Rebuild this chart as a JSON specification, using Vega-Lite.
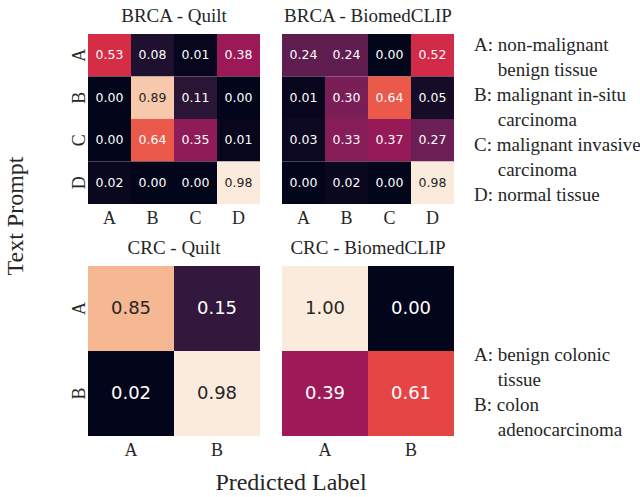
{
  "$schema": "https://vega.github.io/schema/vega-lite/v6.json",
  "autosize": {"type": "none"},
  "padding": {"left": 88, "top": 34, "right": 552, "bottom": 463},
  "background": "white",
  "title": {"text": "Text Prompt", "orient": "left", "anchor": "middle", "font": "Liberation Serif", "fontSize": 24, "fontWeight": "normal", "color": "#262626", "offset": 42, "dx": 35},
  "datasets": {
    "brca_quilt": [
      {"prompt": "A", "pred": "A", "value": 0.53}, {"prompt": "A", "pred": "B", "value": 0.08}, {"prompt": "A", "pred": "C", "value": 0.01}, {"prompt": "A", "pred": "D", "value": 0.38},
      {"prompt": "B", "pred": "A", "value": 0.00}, {"prompt": "B", "pred": "B", "value": 0.89}, {"prompt": "B", "pred": "C", "value": 0.11}, {"prompt": "B", "pred": "D", "value": 0.00},
      {"prompt": "C", "pred": "A", "value": 0.00}, {"prompt": "C", "pred": "B", "value": 0.64}, {"prompt": "C", "pred": "C", "value": 0.35}, {"prompt": "C", "pred": "D", "value": 0.01},
      {"prompt": "D", "pred": "A", "value": 0.02}, {"prompt": "D", "pred": "B", "value": 0.00}, {"prompt": "D", "pred": "C", "value": 0.00}, {"prompt": "D", "pred": "D", "value": 0.98}
    ],
    "brca_biomedclip": [
      {"prompt": "A", "pred": "A", "value": 0.24}, {"prompt": "A", "pred": "B", "value": 0.24}, {"prompt": "A", "pred": "C", "value": 0.00}, {"prompt": "A", "pred": "D", "value": 0.52},
      {"prompt": "B", "pred": "A", "value": 0.01}, {"prompt": "B", "pred": "B", "value": 0.30}, {"prompt": "B", "pred": "C", "value": 0.64}, {"prompt": "B", "pred": "D", "value": 0.05},
      {"prompt": "C", "pred": "A", "value": 0.03}, {"prompt": "C", "pred": "B", "value": 0.33}, {"prompt": "C", "pred": "C", "value": 0.37}, {"prompt": "C", "pred": "D", "value": 0.27},
      {"prompt": "D", "pred": "A", "value": 0.00}, {"prompt": "D", "pred": "B", "value": 0.02}, {"prompt": "D", "pred": "C", "value": 0.00}, {"prompt": "D", "pred": "D", "value": 0.98}
    ],
    "crc_quilt": [
      {"prompt": "A", "pred": "A", "value": 0.85}, {"prompt": "A", "pred": "B", "value": 0.15},
      {"prompt": "B", "pred": "A", "value": 0.02}, {"prompt": "B", "pred": "B", "value": 0.98}
    ],
    "crc_biomedclip": [
      {"prompt": "A", "pred": "A", "value": 1.00}, {"prompt": "A", "pred": "B", "value": 0.00},
      {"prompt": "B", "pred": "A", "value": 0.39}, {"prompt": "B", "pred": "B", "value": 0.61}
    ],
    "legend_brca": [
      {"text": "A: non-malignant\n\u200b\u00a0\u00a0\u00a0\u00a0\u00a0benign tissue\nB: malignant in-situ\n\u200b\u00a0\u00a0\u00a0\u00a0\u00a0carcinoma\nC: malignant invasive\n\u200b\u00a0\u00a0\u00a0\u00a0\u00a0carcinoma\nD: normal tissue"}
    ],
    "legend_crc": [
      {"text": "A: benign colonic\n\u200b\u00a0\u00a0\u00a0\u00a0\u00a0tissue\nB: colon\n\u200b\u00a0\u00a0\u00a0\u00a0\u00a0adenocarcinoma"}
    ],
    "xlabel": [{"label": "Predicted Label"}]
  },
  "vconcat": [
    {
      "columns": 3,
      "bounds": "flush",
      "spacing": {"row": 62, "column": 22},
      "resolve": {"scale": {"color": "independent", "x": "independent", "y": "independent"}},
      "concat": [
        {
          "width": 172, "height": 170,
          "title": {"text": "BRCA - Quilt", "anchor": "middle", "frame": "group", "font": "Liberation Serif", "fontSize": 19, "fontWeight": "normal", "color": "#262626", "offset": 8},
          "data": {"name": "brca_quilt"},
          "encoding": {
            "x": {"field": "pred", "type": "ordinal", "scale": {"paddingInner": 0, "paddingOuter": 0}, "axis": {"title": null, "orient": "bottom", "labelAngle": 0, "ticks": false, "tickSize": 0, "domain": false, "labelFont": "Liberation Serif", "labelFontSize": 18, "labelColor": "#262626", "labelPadding": 5}},
            "y": {"field": "prompt", "type": "ordinal", "scale": {"paddingInner": 0, "paddingOuter": 0}, "axis": {"title": null, "labelAngle": -90, "ticks": false, "tickSize": 0, "domain": false, "labelFont": "Liberation Serif", "labelFontSize": 18, "labelColor": "#262626", "labelPadding": 0}}
          },
          "layer": [
            {"mark": {"type": "rect"}, "encoding": {"color": {"field": "value", "type": "quantitative", "legend": null, "scale": {"domain": [0, 0.98], "interpolate": "rgb", "range": ["#03051a", "#35193e", "#701f57", "#ad1759", "#e13342", "#f37651", "#f6b48f", "#faebdd"]}}}},
            {"mark": {"type": "text", "font": "DejaVu Sans", "fontSize": 12.5}, "encoding": {"text": {"field": "value", "type": "quantitative", "format": ".2f"}, "color": {"condition": {"test": "datum.value > 0.8", "value": "#262626"}, "value": "#ffffff"}}}
          ]
        },
        {
          "width": 172, "height": 170,
          "title": {"text": "BRCA - BiomedCLIP", "anchor": "middle", "frame": "group", "font": "Liberation Serif", "fontSize": 19, "fontWeight": "normal", "color": "#262626", "offset": 8},
          "data": {"name": "brca_biomedclip"},
          "encoding": {
            "x": {"field": "pred", "type": "ordinal", "scale": {"paddingInner": 0, "paddingOuter": 0}, "axis": {"title": null, "orient": "bottom", "labelAngle": 0, "ticks": false, "tickSize": 0, "domain": false, "labelFont": "Liberation Serif", "labelFontSize": 18, "labelColor": "#262626", "labelPadding": 5}},
            "y": {"field": "prompt", "type": "ordinal", "scale": {"paddingInner": 0, "paddingOuter": 0}, "axis": null}
          },
          "layer": [
            {"mark": {"type": "rect"}, "encoding": {"color": {"field": "value", "type": "quantitative", "legend": null, "scale": {"domain": [0, 0.98], "interpolate": "rgb", "range": ["#03051a", "#35193e", "#701f57", "#ad1759", "#e13342", "#f37651", "#f6b48f", "#faebdd"]}}}},
            {"mark": {"type": "text", "font": "DejaVu Sans", "fontSize": 12.5}, "encoding": {"text": {"field": "value", "type": "quantitative", "format": ".2f"}, "color": {"condition": {"test": "datum.value > 0.8", "value": "#262626"}, "value": "#ffffff"}}}
          ]
        },
        {
          "width": 2, "height": 170,
          "data": {"name": "legend_brca"},
          "mark": {"type": "text", "align": "left", "baseline": "middle", "lineBreak": "\n", "lineHeight": 25, "font": "Liberation Serif", "fontSize": 19, "color": "#262626", "dx": -3, "dy": -74},
          "encoding": {"text": {"field": "text", "type": "nominal"}}
        },
        {
          "width": 172, "height": 170,
          "title": {"text": "CRC - Quilt", "anchor": "middle", "frame": "group", "font": "Liberation Serif", "fontSize": 19, "fontWeight": "normal", "color": "#262626", "offset": 8},
          "data": {"name": "crc_quilt"},
          "encoding": {
            "x": {"field": "pred", "type": "ordinal", "scale": {"paddingInner": 0, "paddingOuter": 0}, "axis": {"title": null, "orient": "bottom", "labelAngle": 0, "ticks": false, "tickSize": 0, "domain": false, "labelFont": "Liberation Serif", "labelFontSize": 18, "labelColor": "#262626", "labelPadding": 5}},
            "y": {"field": "prompt", "type": "ordinal", "scale": {"paddingInner": 0, "paddingOuter": 0}, "axis": {"title": null, "labelAngle": -90, "ticks": false, "tickSize": 0, "domain": false, "labelFont": "Liberation Serif", "labelFontSize": 18, "labelColor": "#262626", "labelPadding": 0}}
          },
          "layer": [
            {"mark": {"type": "rect"}, "encoding": {"color": {"field": "value", "type": "quantitative", "legend": null, "scale": {"domain": [0.02, 0.98], "interpolate": "rgb", "range": ["#03051a", "#35193e", "#701f57", "#ad1759", "#e13342", "#f37651", "#f6b48f", "#faebdd"]}}}},
            {"mark": {"type": "text", "font": "DejaVu Sans", "fontSize": 18}, "encoding": {"text": {"field": "value", "type": "quantitative", "format": ".2f"}, "color": {"condition": {"test": "datum.value > 0.8", "value": "#262626"}, "value": "#ffffff"}}}
          ]
        },
        {
          "width": 172, "height": 170,
          "title": {"text": "CRC - BiomedCLIP", "anchor": "middle", "frame": "group", "font": "Liberation Serif", "fontSize": 19, "fontWeight": "normal", "color": "#262626", "offset": 8},
          "data": {"name": "crc_biomedclip"},
          "encoding": {
            "x": {"field": "pred", "type": "ordinal", "scale": {"paddingInner": 0, "paddingOuter": 0}, "axis": {"title": null, "orient": "bottom", "labelAngle": 0, "ticks": false, "tickSize": 0, "domain": false, "labelFont": "Liberation Serif", "labelFontSize": 18, "labelColor": "#262626", "labelPadding": 5}},
            "y": {"field": "prompt", "type": "ordinal", "scale": {"paddingInner": 0, "paddingOuter": 0}, "axis": null}
          },
          "layer": [
            {"mark": {"type": "rect"}, "encoding": {"color": {"field": "value", "type": "quantitative", "legend": null, "scale": {"domain": [0, 1], "interpolate": "rgb", "range": ["#03051a", "#35193e", "#701f57", "#ad1759", "#e13342", "#f37651", "#f6b48f", "#faebdd"]}}}},
            {"mark": {"type": "text", "font": "DejaVu Sans", "fontSize": 18}, "encoding": {"text": {"field": "value", "type": "quantitative", "format": ".2f"}, "color": {"condition": {"test": "datum.value > 0.8", "value": "#262626"}, "value": "#ffffff"}}}
          ]
        },
        {
          "width": 2, "height": 170,
          "data": {"name": "legend_crc"},
          "mark": {"type": "text", "align": "left", "baseline": "middle", "lineBreak": "\n", "lineHeight": 25, "font": "Liberation Serif", "fontSize": 19, "color": "#262626", "dx": -3, "dy": 4},
          "encoding": {"text": {"field": "text", "type": "nominal"}}
        }
      ]
    },
    {
      "width": 406, "height": 20,
      "data": {"name": "xlabel"},
      "mark": {"type": "text", "baseline": "middle", "align": "center", "font": "Liberation Serif", "fontSize": 24, "color": "#262626"},
      "encoding": {"text": {"field": "label", "type": "nominal"}}
    }
  ],
  "spacing": 12,
  "config": {"view": {"stroke": null}}
}
